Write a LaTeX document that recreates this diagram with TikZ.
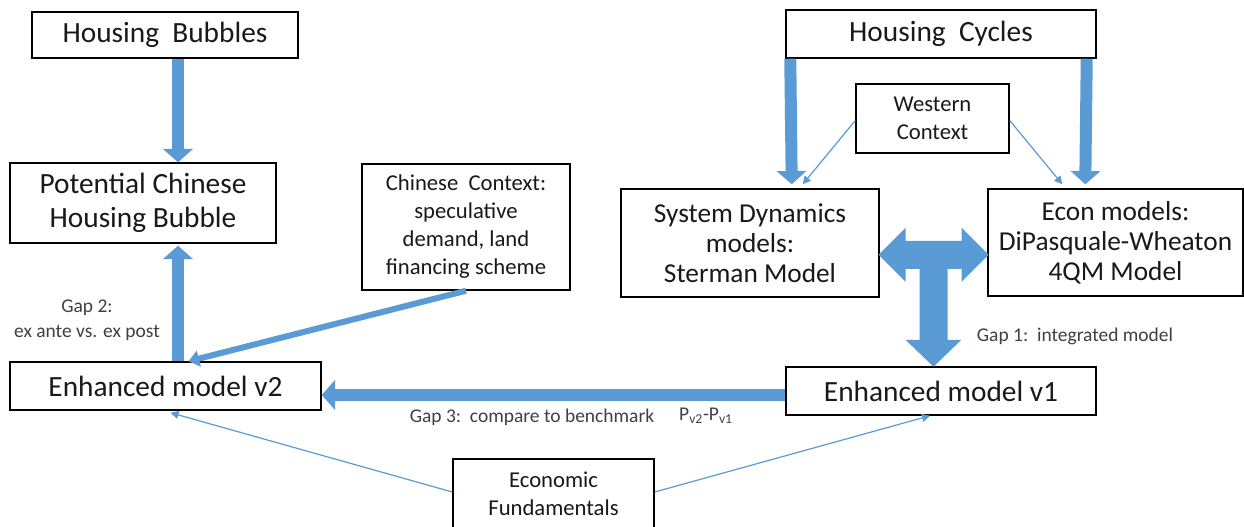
\documentclass[tikz,border=0pt]{standalone}
\usepackage{fontspec}
\setmainfont{Carlito}
\usetikzlibrary{positioning,arrows.meta,calc}
\definecolor{pilblue}{HTML}{5B9BD5}
\definecolor{gaptext}{HTML}{404040}

\begin{document}
\begin{tikzpicture}[%
x=0.75pt,y=-0.75pt,
box/.style={draw,line width=1.1pt,inner sep=0pt,align=center,text=black!90},
big/.style={font=\fontsize{22}{25.5}\selectfont},
mid/.style={font=\fontsize{20.5}{22.5}\selectfont},
small/.style={font=\fontsize{17}{21}\selectfont},
gap/.style={font=\fontsize{14.6}{18.75}\selectfont,text=gaptext,align=center},
fat/.style={-{Triangle[width=22pt,length=10pt]},line width=9pt,pilblue},
medium/.style={-{Triangle[width=12pt,length=8pt]},line width=4.5pt,pilblue},
thin/.style={-{Triangle[width=6pt,length=6pt]},line width=0.9pt,pilblue}
]
\path[use as bounding box,fill=white] (0,0) rectangle (1244,527);

\node[box,big,minimum width=199.5pt,minimum height=34.5pt] (hb) at (165,35) {Housing\ \ Bubbles};
\node[box,big,minimum width=232.5pt,minimum height=36pt] (hc) at (941,34) {Housing\ \ Cycles};
\node[box,small,minimum width=114.75pt,minimum height=51.75pt] (wc) at (932.5,118.5) {Western\\Context};
\node[box,big,minimum width=199.5pt,minimum height=60pt] (pcb) at (143,203) {Potential Chinese\\Housing Bubble};
\node[box,small,minimum width=156pt,minimum height=94.5pt] (cc) at (466,227) {Chinese\ \ Context:\\speculative\\demand,\ land\\financing\ scheme};
\node[box,mid,minimum width=193.5pt,minimum height=81pt] (sd) at (750,243) {System Dynamics\\models:\\Sterman Model};
\node[box,mid,minimum width=191.25pt,minimum height=80.25pt] (econ) at (1115.5,242.5) {Econ models:\\DiPasquale-Wheaton\\4QM Model};
\node[box,big,minimum width=233.25pt,minimum height=36pt] (v2) at (165.5,386) {Enhanced model v2};
\node[box,big,minimum width=232.5pt,minimum height=36pt] (v1) at (941,391) {Enhanced model v1};
\node[box,small,minimum width=150.75pt,minimum height=52.5pt] (ef) at (553.5,494) {Economic\\Fundamentals};

% gap labels
\node[gap] (gap2) at (87,320) {Gap 2:\\ex ante vs. ex post};
\node[gap] (gap3) at (532,417) {Gap 3:\ \ compare to benchmark};
\node[gap] (pdiff) at (706,416) {P\textsubscript{v2}-P\textsubscript{v1}};
\node[gap] (gap1) at (1075,336) {Gap 1:\ \ integrated model};

% thick arrows
\draw[fat] ($(hb.south)+(13,0)$) -- ($(pcb.north)+(35,0)$);
\draw[fat] ($(v2.north)+(12.5,0)$) -- ($(pcb.south)+(35,2)$);
\draw[fat] ($(v1.west)+(0,4)$) -- ($(v2.east)+(0,9)$);
\draw[fat] ($(hc.south west)+(5,0)$) -- ($(sd.north east)+(-88,-4)$);
\draw[fat] ($(hc.south east)+(-10,0)$) -- ($(econ.north west)+(98,-4)$);
\draw[medium] (cc.south) -- ($(v2.north)+(23,0)$);

% T arrow between the two models and v1
\coordinate (t) at ($(sd.east)!0.5!(econ.west)+(0,12)$);
\fill[pilblue] ($(t)+(-55,0)$) -- ++(27,-27) -- ++(0,13) -- ++(56,0) -- ++(0,-13)
  -- ++(27,27) -- ++(-27,27) -- ++(0,-13) -- ++(-14,0) -- ++(0,71) -- ++(14,0)
  -- ++(-28,27) -- ++(-28,-27) -- ++(14,0) -- ++(0,-71) -- ++(-14,0) -- ++(0,13) -- cycle;

% thin arrows
\draw[thin] ($(wc.west)+(0,2)$) -- ($(sd.north east)+(-77,-4)$);
\draw[thin] ($(wc.east)+(0,2)$) -- ($(econ.north west)+(75,-4)$);
\draw[thin] ($(ef.west)+(0,-2)$) -- ($(v2.south)+(5,2)$);
\draw[thin] ($(ef.east)+(0,-2)$) -- ($(v1.south)+(-11,0)$);
\end{tikzpicture}
\end{document}
